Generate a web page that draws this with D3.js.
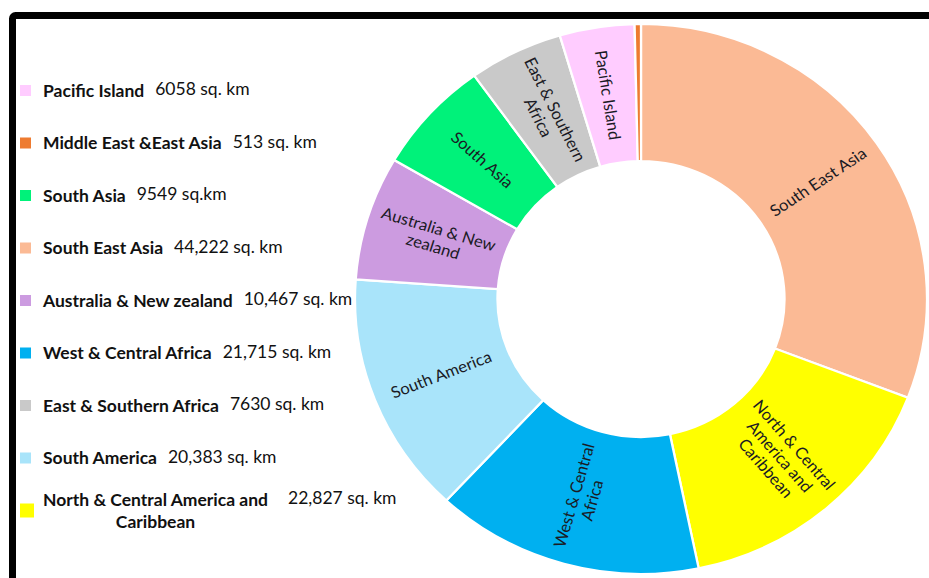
<!DOCTYPE html>
<html>
<head>
<meta charset="utf-8">
<script src="https://cdn.jsdelivr.net/npm/d3@7"></script>
<style>
  html, body { margin: 0; padding: 0; background: #fff; }
  svg { display: block; }
  text { font-family: Lato, "Open Sans", sans-serif; }
</style>
</head>
<body>
<svg id="chart" width="929" height="578"></svg>
<script>
// ---- Data (pie order, clockwise from 12 o'clock) ----
const pieRegions = ["South East Asia", "North & Central America and Caribbean", "West & Central Africa",
  "South America", "Australia & New zealand", "South Asia", "East & Southern Africa",
  "Pacific Island", "Middle East &East Asia"];
const areas = [44222, 22827, 21715, 20383, 10467, 9549, 7630, 6058, 513];
const sliceLabels = [["South East Asia"], ["North & Central", "America and", "Caribbean"],
  ["West & Central", "Africa"], ["South America"], ["Australia & New", "zealand"],
  ["South Asia"], ["East & Southern", "Africa"], ["Pacific Island"], []];
const regionColors = ["#FBBA95", "#FFFF00", "#00B0F0", "#A9E4FA", "#CC9BE0",
  "#00F27A", "#C9C9C9", "#FFCCFF", "#EE7B30"];

// ---- Legend (its own order) ----
const legendRegions = ["Pacific Island", "Middle East &East Asia", "South Asia", "South East Asia",
  "Australia & New zealand", "West & Central Africa", "East & Southern Africa", "South America",
  "North & Central America and Caribbean"];
const legendLines = [["Pacific Island"], ["Middle East &East Asia"], ["South Asia"], ["South East Asia"],
  ["Australia & New zealand"], ["West & Central Africa"], ["East & Southern Africa"], ["South America"],
  ["North & Central America and", "Caribbean"]];
const legendValues = ["6058 sq. km", "513 sq. km", "9549 sq.km", "44,222 sq. km", "10,467 sq. km",
  "21,715 sq. km", "7630 sq. km", "20,383 sq. km", "22,827 sq. km"];

const svg = d3.select("#chart");

// frame
svg.append("rect")
  .attr("x", 12.5).attr("y", 15.5)
  .attr("width", 1000).attr("height", 700)
  .attr("rx", 3)
  .attr("fill", "none").attr("stroke", "#000").attr("stroke-width", 7);

// ---- Donut ----
const cx = 641, cy = 299, outerR = 275, innerR = 138;
const color = d3.scaleOrdinal().domain(pieRegions).range(regionColors);
const pie = d3.pie().sort(null).value(d => d.value).startAngle(0).endAngle(2 * Math.PI);
const data = pieRegions.map((r, i) => ({ region: r, value: areas[i], lines: sliceLabels[i] }));
const arcs = pie(data);
const arc = d3.arc().innerRadius(innerR).outerRadius(outerR);

const g = svg.append("g").attr("transform", `translate(${cx},${cy}) scale(1.04,1)`);
g.selectAll("path.slice")
  .data(arcs)
  .join("path")
  .attr("class", "slice")
  .attr("d", arc)
  .attr("fill", d => color(d.data.region))
  .attr("stroke", "#fff")
  .attr("stroke-width", 2.2);

const lineH = 18;
const labels = g.selectAll("g.lbl")
  .data(arcs.filter(d => d.data.lines.length))
  .join("g")
  .attr("class", "lbl")
  .attr("transform", d => {
    const [x, y] = arc.centroid(d);
    const mid = (d.startAngle + d.endAngle) / 2 * 180 / Math.PI;
    const rot = mid < 180 ? mid - 90 : mid - 270;
    return `translate(${x},${y}) rotate(${rot})`;
  });
labels.each(function (d) {
  const n = d.data.lines.length;
  const t = d3.select(this).append("text")
    .attr("text-anchor", "middle")
    .attr("font-size", 16)
    .attr("fill", "#1a1a24");
  d.data.lines.forEach((ln, i) => {
    t.append("tspan")
      .attr("x", 0)
      .attr("y", (i - (n - 1) / 2) * lineH)
      .attr("dy", "0.35em")
      .text(ln);
  });
});

// ---- Legend ----
const legY = d3.scaleLinear().domain([0, 8]).range([90.5, 510.5]);
const leg = svg.append("g");
legendRegions.forEach((r, i) => {
  const y = legY(i);
  const lines = legendLines[i];
  const sw = lines.length > 1 ? 14 : 11;
  leg.append("rect")
    .attr("x", 20).attr("y", y - sw / 2)
    .attr("width", sw).attr("height", sw)
    .attr("fill", color(r));
  const n = lines.length;
  let endX = 0;
  lines.forEach((ln, j) => {
    const t = leg.append("text")
      .attr("x", 43)
      .attr("y", y + (j - (n - 1) / 2) * 22)
      .attr("dy", "0.35em")
      .attr("font-size", 17.5)
      .attr("font-weight", "bold")
      .attr("fill", "#111")
      .text(ln);
    const w = t.node().getComputedTextLength();
    if (j === 0) endX = 43 + w;
    else t.attr("x", 43 + ((endX - 43) - w) / 2);
  });
  leg.append("text")
    .attr("x", endX + (n > 1 ? 20 : 11))
    .attr("y", y + (0 - (n - 1) / 2) * 22 - 1.5)
    .attr("dy", "0.35em")
    .attr("font-size", 17.5)
    .attr("fill", "#111")
    .text(legendValues[i]);
});
</script>
</body>
</html>
